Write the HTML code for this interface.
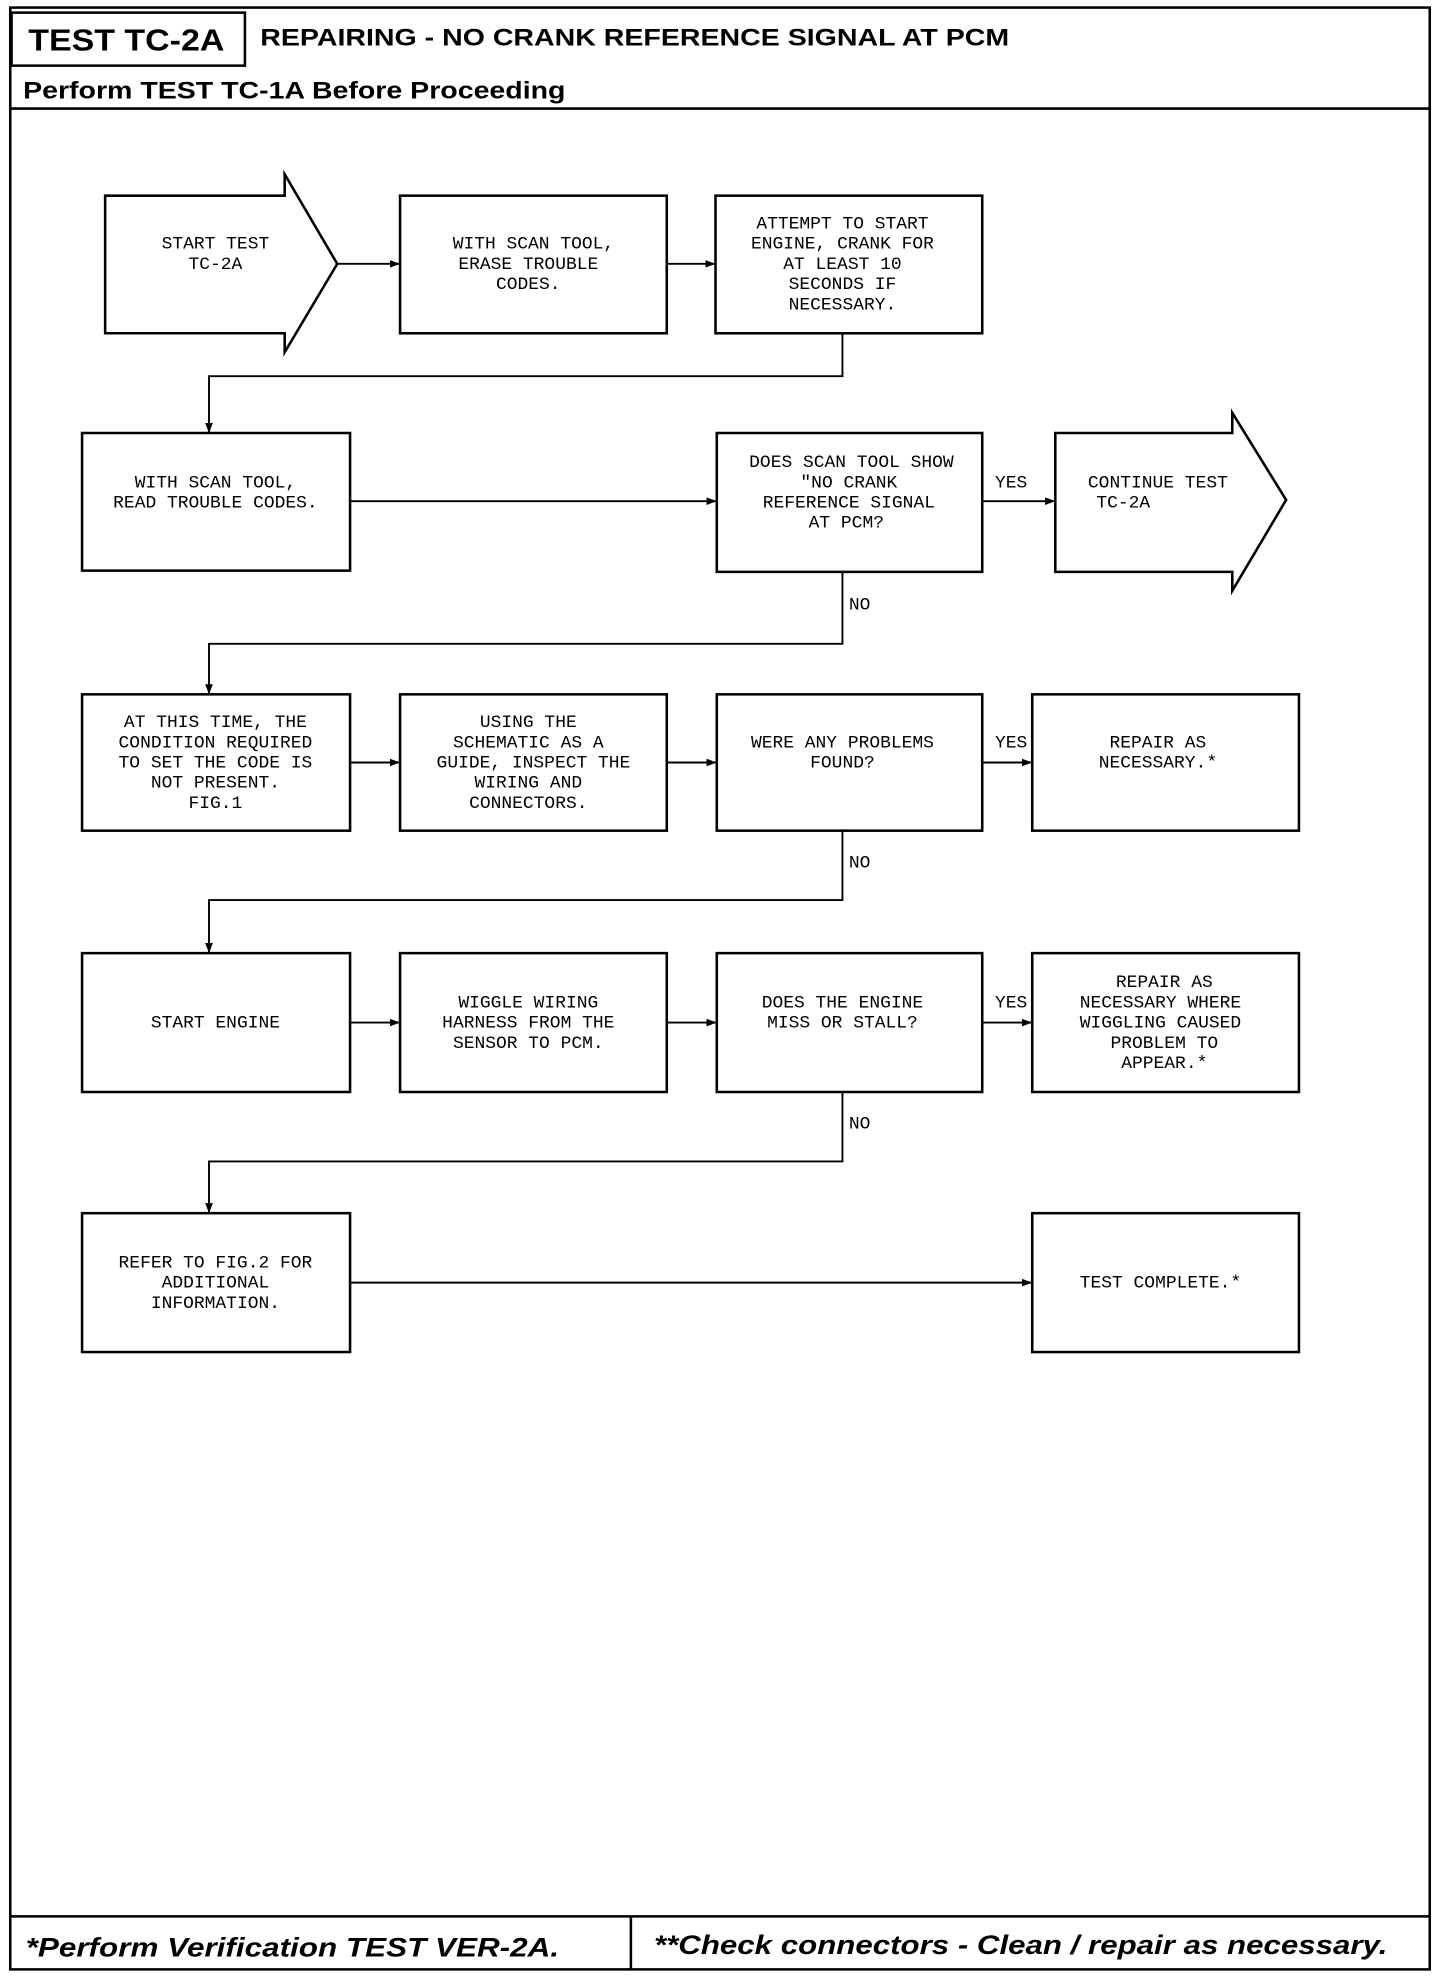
<!DOCTYPE html>
<html><head><style>html,body{margin:0;padding:0;background:#fff}svg{display:block}</style></head><body>
<svg width="1440" height="1982" viewBox="0 0 1123 1570" preserveAspectRatio="none" xmlns="http://www.w3.org/2000/svg">
<defs><marker id="a" markerWidth="8" markerHeight="6" refX="8" refY="3" orient="auto" markerUnits="userSpaceOnUse"><path d="M0,0 L8,3 L0,6z" fill="#000"/></marker></defs>
<g fill="none" stroke="#000" stroke-width="2">
<rect x="8" y="6" width="1107" height="1554"/>
<rect x="9" y="10" width="182" height="42"/>
<line x1="8" y1="86" x2="1115" y2="86"/>
<line x1="8" y1="1518" x2="1115" y2="1518"/>
<line x1="492" y1="1518" x2="492" y2="1560"/>
<path d="M82,155 H222 V138 L263,209 L222,279 V264 H82Z"/>
<rect x="312" y="155" width="208" height="109"/>
<rect x="558" y="155" width="208" height="109"/>
<rect x="64" y="343" width="209" height="109"/>
<rect x="559" y="343" width="207" height="110"/>
<path d="M823,343 H961 V327 L1003,396 L961,468 V453 H823Z"/>
<rect x="64" y="550" width="209" height="108"/>
<rect x="312" y="550" width="208" height="108"/>
<rect x="559" y="550" width="207" height="108"/>
<rect x="805" y="550" width="208" height="108"/>
<rect x="64" y="755" width="209" height="110"/>
<rect x="312" y="755" width="208" height="110"/>
<rect x="559" y="755" width="207" height="110"/>
<rect x="805" y="755" width="208" height="110"/>
<rect x="64" y="961" width="209" height="110"/>
<rect x="805" y="961" width="208" height="110"/>
</g>
<g fill="none" stroke="#000" stroke-width="1.5" marker-end="url(#a)">
<line x1="263" y1="209" x2="312" y2="209"/>
<line x1="520" y1="209" x2="558" y2="209"/>
<path d="M657,264 V298 H163 V343"/>
<line x1="273" y1="397" x2="559" y2="397"/>
<line x1="766" y1="397" x2="823" y2="397"/>
<path d="M657,453 V510 H163 V550"/>
<line x1="273" y1="604" x2="312" y2="604"/>
<line x1="520" y1="604" x2="559" y2="604"/>
<line x1="766" y1="604" x2="805" y2="604"/>
<path d="M657,658 V713 H163 V755"/>
<line x1="273" y1="810" x2="312" y2="810"/>
<line x1="520" y1="810" x2="559" y2="810"/>
<line x1="766" y1="810" x2="805" y2="810"/>
<path d="M657,865 V920 H163 V961"/>
<line x1="273" y1="1016" x2="805" y2="1016"/>
</g>
<g font-family="Liberation Sans, sans-serif" font-weight="bold" fill="#000">
<text x="22" y="40" font-size="24" textLength="153" lengthAdjust="spacingAndGlyphs">TEST TC-2A</text>
<text x="203" y="36" font-size="19" textLength="584" lengthAdjust="spacingAndGlyphs">REPAIRING - NO CRANK REFERENCE SIGNAL AT PCM</text>
<text x="18" y="78" font-size="19" textLength="423" lengthAdjust="spacingAndGlyphs">Perform TEST TC-1A Before Proceeding</text>
<text x="20" y="1550" font-size="21" font-style="italic" textLength="416" lengthAdjust="spacingAndGlyphs">*Perform Verification TEST VER-2A.</text>
<text x="510" y="1548" font-size="21" font-style="italic" textLength="572" lengthAdjust="spacingAndGlyphs">**Check connectors - Clean / repair as necessary.</text>
</g>
<g font-family="Liberation Mono, monospace" font-size="14" fill="#000" text-anchor="middle">
<text x="168" y="197">START TEST</text><text x="168" y="213">TC-2A</text>
<text x="416" y="197">WITH SCAN TOOL,</text><text x="412" y="213">ERASE TROUBLE</text><text x="412" y="229">CODES.</text>
<text x="657" y="181">ATTEMPT TO START</text><text x="657" y="197">ENGINE, CRANK FOR</text><text x="657" y="213">AT LEAST 10</text><text x="657" y="229">SECONDS IF</text><text x="657" y="245">NECESSARY.</text>
<text x="168" y="386">WITH SCAN TOOL,</text><text x="168" y="402">READ TROUBLE CODES.</text>
<text x="664" y="370">DOES SCAN TOOL SHOW</text><text x="662" y="386">"NO CRANK</text><text x="662" y="402">REFERENCE SIGNAL</text><text x="660" y="418">AT PCM?</text>
<text x="903" y="386">CONTINUE TEST</text><text x="876" y="402">TC-2A</text>
<text x="168" y="576">AT THIS TIME, THE</text><text x="168" y="592">CONDITION REQUIRED</text><text x="168" y="608">TO SET THE CODE IS</text><text x="168" y="624">NOT PRESENT.</text><text x="168" y="640">FIG.1</text>
<text x="412" y="576">USING THE</text><text x="412" y="592">SCHEMATIC AS A</text><text x="416" y="608">GUIDE, INSPECT THE</text><text x="412" y="624">WIRING AND</text><text x="412" y="640">CONNECTORS.</text>
<text x="657" y="592">WERE ANY PROBLEMS</text><text x="657" y="608">FOUND?</text>
<text x="903" y="592">REPAIR AS</text><text x="903" y="608">NECESSARY.*</text>
<text x="168" y="814">START ENGINE</text>
<text x="412" y="798">WIGGLE WIRING</text><text x="412" y="814">HARNESS FROM THE</text><text x="412" y="830">SENSOR TO PCM.</text>
<text x="657" y="798">DOES THE ENGINE</text><text x="657" y="814">MISS OR STALL?</text>
<text x="908" y="782">REPAIR AS</text><text x="905" y="798">NECESSARY WHERE</text><text x="905" y="814">WIGGLING CAUSED</text><text x="908" y="830">PROBLEM TO</text><text x="908" y="846">APPEAR.*</text>
<text x="168" y="1004">REFER TO FIG.2 FOR</text><text x="168" y="1020">ADDITIONAL</text><text x="168" y="1036">INFORMATION.</text>
<text x="905" y="1020">TEST COMPLETE.*</text>
</g>
<g font-family="Liberation Mono, monospace" font-size="14" fill="#000">
<text x="776" y="386">YES</text><text x="662" y="483">NO</text>
<text x="776" y="592">YES</text><text x="662" y="687">NO</text>
<text x="776" y="798">YES</text><text x="662" y="894">NO</text>
</g>
</svg>
</body></html>
